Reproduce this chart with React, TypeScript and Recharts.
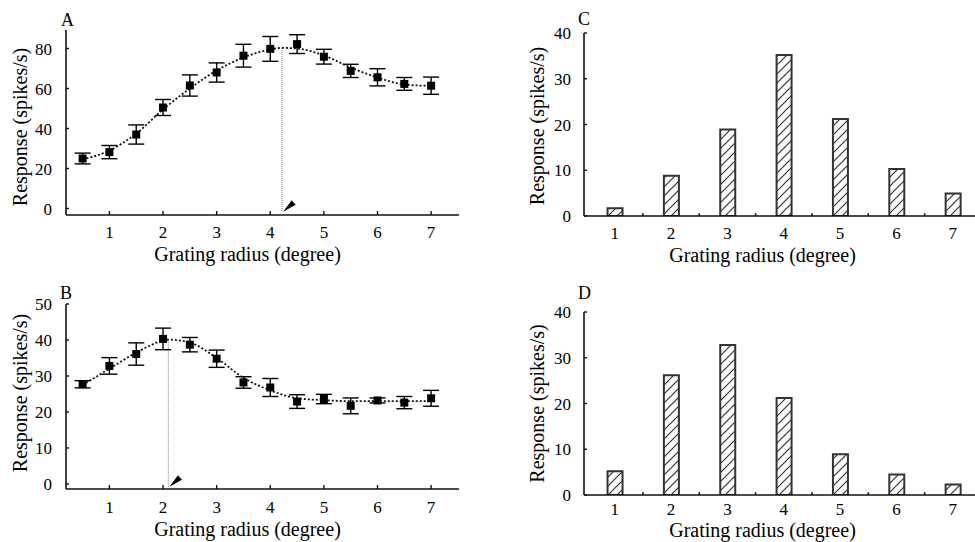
import React from 'react';
import {
  ComposedChart, BarChart, Bar, Line, Scatter, ErrorBar, XAxis, YAxis,
  ReferenceLine, ReferenceDot,
} from 'recharts';

// grating radius (degree) at which each response was measured
const radii = [0.5, 1, 1.5, 2, 2.5, 3, 3.5, 4, 4.5, 5, 5.5, 6, 6.5, 7];

// panel A: mean response and SEM
const respA = [25, 28.2, 37, 50.5, 61.5, 68, 76.4, 79.8, 82.2, 75.9, 68.8, 65.6, 62.3, 61.4];
const errA = [2.7, 3.3, 4.8, 4, 5.3, 4.8, 5.7, 6.2, 4.7, 3.7, 3.3, 4.3, 3.2, 4.3];
// panel A: fitted curve
const fitRadiiA = [0.5, 1, 1.5, 2, 2.5, 3, 3.5, 4, 4.22, 4.5, 5, 5.5, 6, 6.5, 7];
const fitA = [24.5, 29, 37.5, 49.5, 60, 69, 75.5, 79.5, 80.3, 80, 76.5, 70.5, 65.5, 62, 61.3];
const peakA = 4.22;

// panel B
const respB = [27.7, 32.8, 36.1, 40.3, 38.7, 34.8, 28.2, 26.8, 22.9, 23.6, 21.7, 23.2, 22.6, 23.8];
const errB = [1, 2.3, 3.1, 3, 2, 2.4, 1.6, 2.5, 1.9, 1.3, 2.2, 0.7, 1.7, 2.2];
const fitRadiiB = [0.5, 1, 1.5, 2, 2.1, 2.5, 3, 3.5, 4, 4.5, 5, 5.5, 6, 6.5, 7];
const fitB = [27.5, 32, 36.5, 39.8, 40.1, 39.3, 35, 29.5, 26, 23.8, 23.3, 23, 23, 23, 23];
const peakB = 2.1;

// panels C and D: cell counts per optimal radius
const barRadii = [1, 2, 3, 4, 5, 6, 7];
const countsC = [1.7, 8.8, 18.9, 35.2, 21.2, 10.3, 4.9];
const countsD = [5.2, 26.2, 32.8, 21.2, 8.9, 4.5, 2.3];
const bandEdges = [1.5, 2.5, 3.5, 4.5, 5.5, 6.5];

const ticksA = [0, 20, 40, 60, 80];
const ticksB = [0, 10, 20, 30, 40, 50];
const ticksCD = [0, 10, 20, 30, 40];
const xTicks = [1, 2, 3, 4, 5, 6, 7];

const FONT = '"Liberation Serif", "Times New Roman", serif';
const yTitle = 'Response (spikes/s)';
const xTitle = 'Grating radius (degree)';

const ptsA = radii.map((x, i) => ({ x, y: respA[i], err: errA[i] }));
const ptsB = radii.map((x, i) => ({ x, y: respB[i], err: errB[i] }));
const curveA = fitRadiiA.map((x, i) => ({ x, fit: fitA[i] }));
const curveB = fitRadiiB.map((x, i) => ({ x, fit: fitB[i] }));
const barsC = barRadii.map((r, i) => ({ r, v: countsC[i] }));
const barsD = barRadii.map((r, i) => ({ r, v: countsD[i] }));

const square = (p: any) => (
  <rect x={p.cx - 4} y={p.cy - 4} width={8} height={8} fill="#000" />
);

const arrowHead = (p: any) => {
  const { cx, cy } = p;
  return (
    <polygon
      points={`${cx},${cy} ${cx + 12.5},${cy - 7} ${cx + 8.5},${cy - 11.5}`}
      fill="#000"
    />
  );
};

const axisLine = { stroke: '#111', strokeWidth: 1.6 };
const tickStyle = { fill: '#000', fontSize: 17, fontFamily: FONT };
const titleStyle = { fontSize: 20, fill: '#000', fontFamily: FONT };

function TuningPanel({ pts, curve, peak, yDomain, yTicks, arrowY, height, top, xOff, yDy }: any) {
  const peakY = curve.find((d: any) => d.x === peak).fit;
  return (
    <ComposedChart
      width={480}
      height={height}
      margin={{ top, right: 21, bottom: 0, left: 0 }}
    >
      <XAxis
        dataKey="x"
        type="number"
        domain={[0.19, 7.52]}
        ticks={xTicks}
        allowDataOverflow
        axisLine={axisLine}
        tickLine={{ stroke: '#111', strokeWidth: 1.4 }}
        tickSize={-4}
        tickMargin={xOff.margin}
        tick={tickStyle}
        height={xOff.height}
        label={{ value: xTitle, position: 'insideBottom', offset: xOff.offset, dx: -15, style: titleStyle }}
      />
      <YAxis
        type="number"
        domain={yDomain}
        ticks={yTicks}
        allowDataOverflow
        width={66}
        axisLine={axisLine}
        tickLine={{ stroke: '#111', strokeWidth: 1.4 }}
        tickSize={-3}
        tickMargin={17}
        tick={tickStyle}
        label={{ value: yTitle, angle: -90, position: 'insideLeft', offset: 20, dy: yDy, style: { ...titleStyle, textAnchor: 'middle' } }}
      />
      <ReferenceLine
        segment={[{ x: peak, y: peakY }, { x: peak, y: arrowY }]}
        stroke="#999"
        strokeWidth={1.2}
        strokeDasharray="1 1"
      />
      <ReferenceDot x={peak + 0.02} y={arrowY} r={0} shape={arrowHead} />
      <Line
        data={curve}
        dataKey="fit"
        type="monotone"
        dot={false}
        stroke="#111"
        strokeWidth={1.8}
        strokeDasharray="2 2"
        isAnimationActive={false}
      />
      <Scatter data={pts} dataKey="y" shape={square} isAnimationActive={false}>
        <ErrorBar dataKey="err" direction="y" width={8} stroke="#000" strokeWidth={1.4} isAnimationActive={false} />
      </Scatter>
    </ComposedChart>
  );
}

function CountPanel({ bars, id, height, top, xOff, yDy }: any) {
  return (
    <BarChart
      data={bars}
      width={481}
      height={height}
      margin={{ top, right: 0, bottom: 0, left: 0 }}
    >
      <defs>
        <pattern id={id} patternUnits="userSpaceOnUse" width={9} height={9}>
          <path d="M-2,11 L11,-2 M-2,2 L2,-2 M7,11 L11,7" stroke="#333" strokeWidth={1.2} />
        </pattern>
      </defs>
      <XAxis
        dataKey="r"
        type="number"
        domain={[0.455, 7.5]}
        ticks={xTicks}
        allowDataOverflow
        axisLine={axisLine}
        tickLine={false}
        tickSize={0}
        tickMargin={xOff.margin}
        tick={tickStyle}
        height={xOff.height}
        label={{ value: xTitle, position: 'insideBottom', offset: xOff.offset, dx: -20, style: titleStyle }}
      />
      <YAxis
        type="number"
        domain={[0, 40]}
        ticks={ticksCD}
        allowDataOverflow
        width={84}
        axisLine={axisLine}
        tickLine={{ stroke: '#111', strokeWidth: 1.4 }}
        tickSize={-3}
        tickMargin={16}
        tick={tickStyle}
        label={{ value: yTitle, angle: -90, position: 'insideLeft', offset: 37, dy: yDy, style: { ...titleStyle, textAnchor: 'middle' } }}
      />
      {bandEdges.map((e) => (
        <ReferenceLine key={e} segment={[{ x: e, y: 0 }, { x: e, y: 0.6 }]} stroke="#111" strokeWidth={1.6} />
      ))}
      <Bar
        dataKey="v"
        barSize={15}
        fill={`url(#${id})`}
        stroke="#333"
        strokeWidth={2}
        isAnimationActive={false}
      />
    </BarChart>
  );
}

const letter = (t: string, left: number, top: number) => (
  <div style={{ position: 'absolute', left, top, fontSize: 18, lineHeight: '18px', color: '#000', fontFamily: FONT }}>{t}</div>
);

export default function App() {
  return (
    <div
      style={{
        position: 'absolute', left: 0, top: 0, width: 975, height: 542,
        overflow: 'hidden', background: '#fff', fontFamily: FONT,
      }}
    >
      <div style={{ position: 'absolute', left: 0, top: 0 }}>
        <TuningPanel
          pts={ptsA} curve={curveA} peak={peakA}
          yDomain={[-3.25, 89.25]} yTicks={ticksA} arrowY={-1.6}
          height={270} top={30} yDy={4.5}
          xOff={{ height: 55, margin: 15, offset: 9 }}
        />
      </div>
      <div style={{ position: 'absolute', left: 0, top: 270 }}>
        <TuningPanel
          pts={ptsB} curve={curveB} peak={peakB}
          yDomain={[-1.4, 50]} yTicks={ticksB} arrowY={-0.75}
          height={272} top={34} yDy={-3.5}
          xOff={{ height: 53, margin: 16, offset: 6 }}
        />
      </div>
      <div style={{ position: 'absolute', left: 500, top: 0 }}>
        <CountPanel bars={barsC} id="hatchC" height={270} top={33} yDy={1.5}
          xOff={{ height: 54, margin: 10.5, offset: 8 }} />
      </div>
      <div style={{ position: 'absolute', left: 500, top: 270 }}>
        <CountPanel bars={barsD} id="hatchD" height={272} top={42} yDy={0}
          xOff={{ height: 47, margin: 8, offset: 5 }} />
      </div>
      {letter('A', 61, 11)}
      {letter('B', 60, 284)}
      {letter('C', 578, 10)}
      {letter('D', 578, 284)}
    </div>
  );
}
